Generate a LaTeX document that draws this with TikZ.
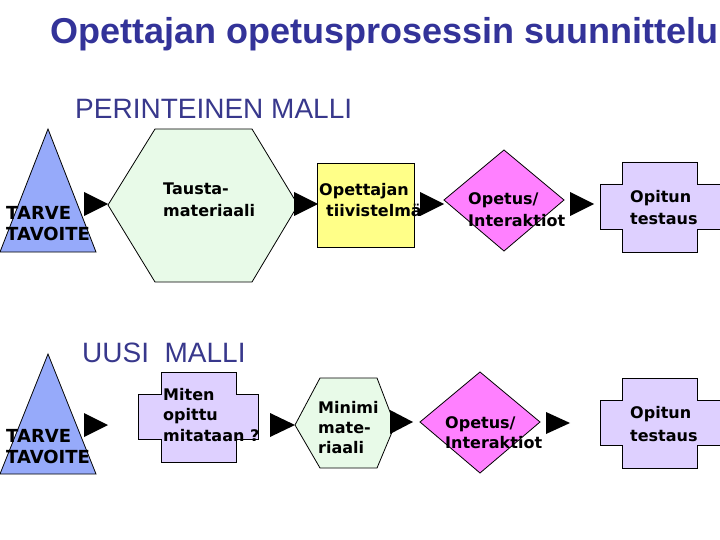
\documentclass[tikz,border=0pt]{standalone}
\usepackage{fontspec}
\setmainfont{Liberation Sans}
\newfontfamily\boxfont{DejaVu Sans}
\definecolor{titleblue}{RGB}{51,51,153}
\definecolor{subblue}{RGB}{56,56,140}
\definecolor{tribl}{RGB}{150,170,250}
\definecolor{hexgr}{RGB}{232,250,232}
\definecolor{rectye}{RGB}{255,255,136}
\definecolor{dmpink}{RGB}{255,128,255}
\definecolor{crlav}{RGB}{222,208,255}
\newcommand{\mylines}[1]{\begin{tabular}[t]{@{}l@{}}#1\end{tabular}}
\tikzset{
  shp/.style={draw=black, line width=0.8pt, line join=miter},
  lbl/.style={anchor=base west, inner sep=0pt, font=\boxfont\bfseries\fontsize{16}{21}\selectfont},
  trilbl/.style={anchor=base west, inner sep=0pt, font=\boxfont\bfseries\fontsize{18}{21}\selectfont},
  head/.style={fill=black},
}
\begin{document}
\begin{tikzpicture}[x=1pt,y=-1pt]
\useasboundingbox (0,0) rectangle (720,540);
% titles
\node[anchor=base west, inner sep=0pt, text=titleblue, font=\bfseries\fontsize{36}{40}\selectfont] (title) at (50,44) {Opettajan opetusprosessin suunnittelu};
\node[anchor=base west, inner sep=0pt, text=subblue, font=\fontsize{28}{30}\selectfont] (sub1) at (75,119) {PERINTEINEN MALLI};
\node[anchor=base west, inner sep=0pt, text=subblue, font=\fontsize{28}{30}\selectfont] (sub2) at (82,362) {UUSI\ \ MALLI};

% ---------- top row ----------
\draw[shp, fill=tribl] (48,129) -- (96,252) -- (0,252) -- cycle;
\node[trilbl] (tri1) at (6,219) {\mylines{TARVE\\TAVOITE}};

\draw[shp, fill=hexgr] (108,205) -- (155,129) -- (252,129) -- (298,205) -- (252,282) -- (155,282) -- cycle;
\node[lbl] (hex1) at (163,195) {\mylines{Tausta-\\materiaali}};

\draw[shp, fill=rectye] (317,163) rectangle (414,247);
\node[lbl] (rect1) at (319,196) {\mylines{Opettajan\\\hspace*{7pt}tiivistelmä}};

\draw[shp, fill=dmpink] (444,200) -- (504,150) -- (564,200) -- (504,251) -- cycle;
\node[lbl] (dia1) at (468,205) {\mylines{Opetus/\\Interaktiot}};

\draw[shp, fill=crlav] (600,184) -- (622,184) -- (622,162) -- (697,162) -- (697,184) -- (722,184)
  -- (722,229) -- (697,229) -- (697,252) -- (622,252) -- (622,229) -- (600,229) -- cycle;
\node[lbl, font=\boxfont\bfseries\fontsize{16}{22}\selectfont] (cr1) at (630,203) {\mylines{Opitun\\testaus}};

\fill[head] (84,192) -- (108,204) -- (84,216) -- cycle;
\fill[head] (294,192) -- (318,204) -- (294,216) -- cycle;
\fill[head] (420,192) -- (444,204) -- (420,216) -- cycle;
\fill[head] (570,192) -- (594,204) -- (570,216) -- cycle;

% ---------- bottom row ----------
\draw[shp, fill=tribl] (48,354) -- (96,474) -- (0,474) -- cycle;
\node[trilbl] (tri2) at (6,442) {\mylines{TARVE\\TAVOITE}};

\draw[shp, fill=crlav] (138,394) -- (161,394) -- (161,372) -- (236,372) -- (236,394) -- (258,394)
  -- (258,439) -- (236,439) -- (236,462) -- (161,462) -- (161,439) -- (138,439) -- cycle;
\node[lbl, font=\boxfont\bfseries\fontsize{16}{20.5}\selectfont] (cr2) at (163,400) {\mylines{Miten\\opittu\\mitataan ?}};

\draw[shp, fill=hexgr] (295,425) -- (320,378) -- (377,378) -- (395,425) -- (377,468) -- (320,468) -- cycle;
\node[lbl, font=\boxfont\bfseries\fontsize{16}{20}\selectfont] (hex2) at (318,413) {\mylines{Minimi\\mate-\\riaali}};

\draw[shp, fill=dmpink] (420,422) -- (480,372) -- (540,422) -- (480,473) -- cycle;
\node[lbl, font=\boxfont\bfseries\fontsize{16}{20}\selectfont] (dia2) at (445,428) {\mylines{Opetus/\\Interaktiot}};

\draw[shp, fill=crlav] (600,400) -- (622,400) -- (622,378) -- (697,378) -- (697,400) -- (722,400)
  -- (722,445) -- (697,445) -- (697,468) -- (622,468) -- (622,445) -- (600,445) -- cycle;
\node[lbl, font=\boxfont\bfseries\fontsize{16}{23}\selectfont] (cr3) at (630,418) {\mylines{Opitun\\testaus}};

\fill[head] (84,413) -- (108,425) -- (84,437) -- cycle;
\fill[head] (270,413) -- (295,425) -- (270,437) -- cycle;
\fill[head] (390,410) -- (413,422) -- (390,434) -- cycle;
\fill[head] (546,412) -- (570,423) -- (546,434) -- cycle;
\end{tikzpicture}
\end{document}
